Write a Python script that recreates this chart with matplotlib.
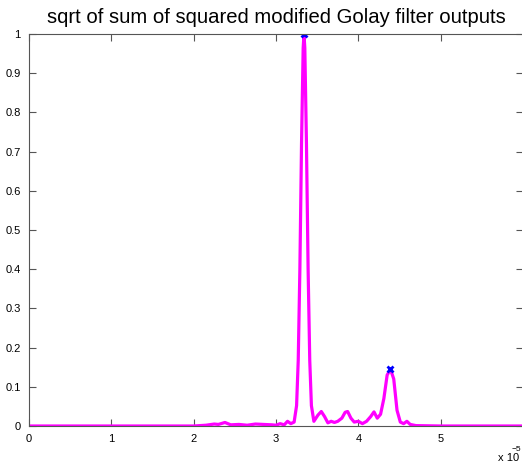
import matplotlib.pyplot as plt

plt.rcParams['font.family'] = ['Liberation Sans', 'DejaVu Sans']

# time axis in units of 1e-5
t = [0.0, 2.0, 2.15, 2.25, 2.3, 2.38, 2.45, 2.55, 2.65, 2.75, 2.85, 2.95, 3.0,
     3.05, 3.1, 3.14, 3.18, 3.22, 3.25, 3.27, 3.29, 3.31, 3.33, 3.34, 3.35,
     3.37, 3.39, 3.41, 3.43, 3.46, 3.51, 3.55, 3.59, 3.63, 3.67, 3.71, 3.75,
     3.8, 3.84, 3.87, 3.91, 3.95, 4.0, 4.05, 4.1, 4.15, 4.19, 4.23, 4.27,
     4.31, 4.35, 4.39, 4.43, 4.47, 4.51, 4.55, 4.59, 4.63, 4.7, 5.0, 6.0]
amp = [0.0, 0.0, 0.002, 0.005, 0.004, 0.009, 0.003, 0.004, 0.002, 0.005, 0.004,
       0.003, 0.002, 0.006, 0.003, 0.012, 0.006, 0.01, 0.052, 0.167, 0.40,
       0.72, 0.964, 1.0, 0.964, 0.72, 0.40, 0.167, 0.052, 0.012, 0.028, 0.037,
       0.024, 0.008, 0.012, 0.009, 0.012, 0.02, 0.035, 0.037, 0.02, 0.01,
       0.012, 0.006, 0.012, 0.024, 0.036, 0.02, 0.03, 0.07, 0.13, 0.145, 0.12,
       0.04, 0.01, 0.006, 0.012, 0.004, 0.001, 0.0, 0.0]
peak_t = [3.34, 4.39]
peak_amp = [1.0, 0.145]

fig = plt.figure(figsize=(5.22, 4.65), dpi=100)
ax = fig.add_axes([29 / 522, 1 - 426 / 465, 494 / 522, 392 / 465])

ax.plot(t, amp, color='#ff00ff', linewidth=2.3)
ax.plot(peak_t, peak_amp, 'x', color='blue', markersize=5, markeredgewidth=2)

ax.set_xlim(0, 6)
ax.set_ylim(0, 1)
ax.set_xticks([0, 1, 2, 3, 4, 5, 6])
ax.set_xticklabels(['0', '1', '2', '3', '4', '5', ''])
ax.set_yticks([i / 10 for i in range(11)])
ax.set_yticklabels(['0', '0.1', '0.2', '0.3', '0.4', '0.5', '0.6', '0.7', '0.8', '0.9', '1'])
ax.tick_params(direction='in', top=True, right=True, length=5, labelsize=8,
               color='#555555', pad=6)
for s in ax.spines.values():
    s.set_color('#555555')

ax.set_title('sqrt of sum of squared modified Golay filter outputs', fontsize=14.6, pad=8)
fig.text(498 / 522, 1 - 458 / 465, 'x 10', fontsize=8, va='center')
fig.text(512 / 522, 1 - 449 / 465, '\u22125', fontsize=6, va='center')

fig.savefig('out.png', dpi=100)
